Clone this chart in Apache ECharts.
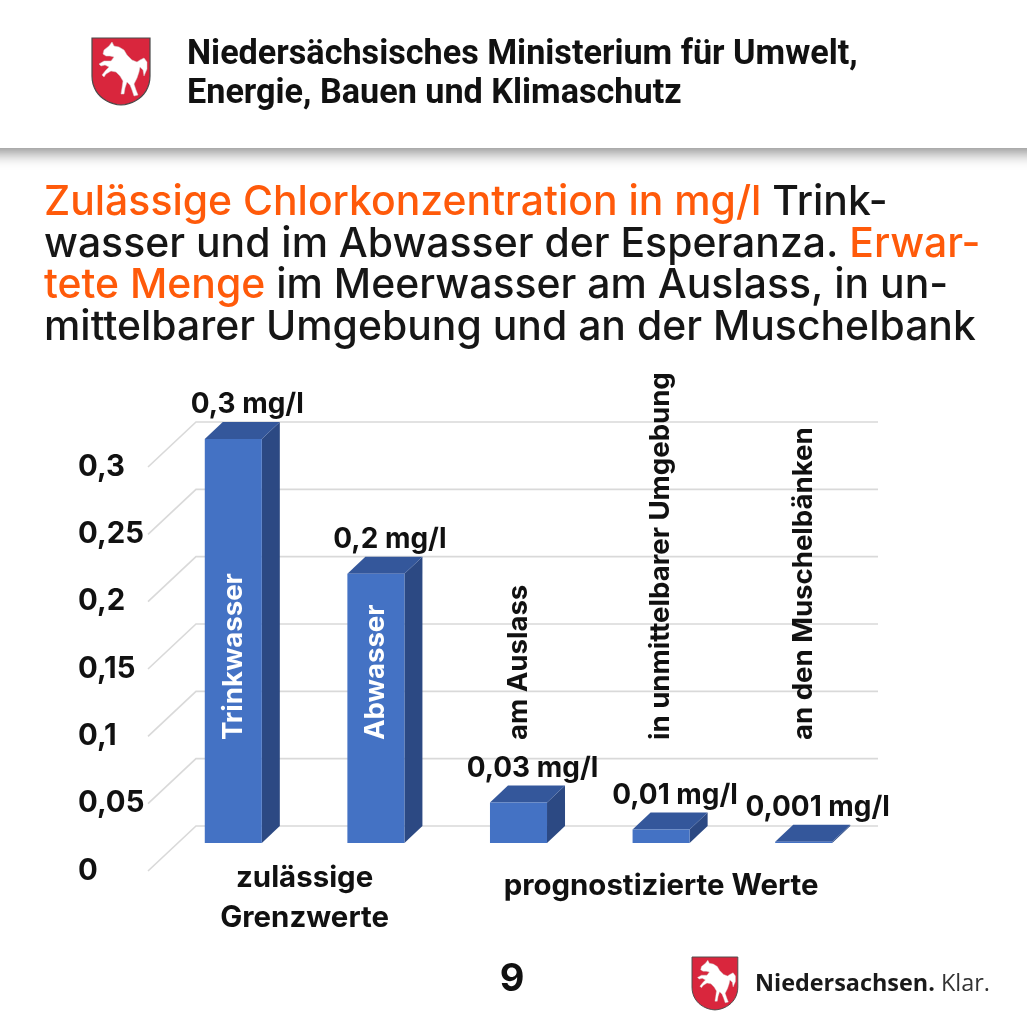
<!DOCTYPE html>
<html><head><meta charset="utf-8">
<script src="https://cdn.jsdelivr.net/npm/echarts@6/dist/echarts.min.js"></script>
<style>html,body{margin:0;padding:0;background:#fff}#c{width:1027px;height:1025px}</style>
</head><body><div id="c"></div>
<script>
// ---- data ----
const categories = ['Trinkwasser', 'Abwasser', 'am Auslass', 'in unmittelbarer Umgebung', 'an den Muschelbänken'];
const values = [0.3, 0.2, 0.03, 0.01, 0.001];
const yTicks = [0, 0.05, 0.1, 0.15, 0.2, 0.25, 0.3];
const groupLabels = ['zulässige\nGrenzwerte', 'prognostizierte Werte'];
const groupRanges = [[0, 1], [2, 4]];
const unit = 'mg/l';
const headerLines = ['Niedersächsisches Ministerium für Umwelt,', 'Energie, Bauen und Klimaschutz'];
const titleLines = [
  [['o', 'Zulässige Chlorkonzentration in mg/l'], ['k', ' Trink-']],
  [['k', 'wasser und im Abwasser der Esperanza.'], ['o', ' Erwar-']],
  [['o', 'tete Menge'], ['k', ' im Meerwasser am Auslass, in un-']],
  [['k', 'mittelbarer Umgebung und an der Muschelbank']]
];
const pageNumber = '9';
const footerBrand = ['Niedersachsen.', ' Klar.'];

// ---- helpers ----
const mctx = document.createElement('canvas').getContext('2d');
function fitSize(text, weight, family, target) {
  mctx.font = weight + ' 100px ' + family;
  return 100 * target / mctx.measureText(text).width;
}
const fmt = v => String(+v.toFixed(4)).replace('.', ',');

const GEO = 'Inter';
const titleSize = fitSize(titleLines[3][0][1], '500', GEO, 932);
const headerSize = fitSize(headerLines[0], '700', 'Roboto', 671);
const catSize = fitSize(categories[3], '700', GEO, 368);
const valSize = fitSize('0,3 mg/l', '700', GEO, 113);
const axisSize = fitSize('0,25', '700', GEO, 66);
const groupSize = fitSize(groupLabels[1], '700', GEO, 315);
const brandSize = fitSize(footerBrand[0], '700', 'Open Sans', 180);

function bez(p0, p1, p2, p3, n) {
  const out = [];
  for (let k = 1; k <= n; k++) {
    const t = k / n, u = 1 - t;
    out.push([u*u*u*p0[0] + 3*u*u*t*p1[0] + 3*u*t*t*p2[0] + t*t*t*p3[0],
              u*u*u*p0[1] + 3*u*u*t*p1[1] + 3*u*t*t*p2[1] + t*t*t*p3[1]]);
  }
  return out;
}
const shieldPts = [[0, 0], [58, 0], [58, 38]]
  .concat(bez([58, 38], [58, 55], [45, 66], [29, 67], 12))
  .concat(bez([29, 67], [13, 66], [0, 55], [0, 38], 12));
const horse = [[11,16],[12,12],[17,8],[20,4],[22,8],[27,9],[32,12],[35,17],[40,22],[45,24],[48,22],[52,20],[55,24],[55,31],[52,38],[51,32],[48,29],[47,34],[45,40],[42,46],[44,52],[46,57],[42,58],[40,52],[38,47],[35,44],[33,50],[32,56],[29,56],[30,50],[31,43],[28,38],[24,34],[19,33],[14,36],[12,39],[10,37],[14,32],[17,29],[13,27],[9,28],[7,26],[12,23],[19,23],[22,19],[18,18],[14,18]];
function shield(x, y, s, z) {
  return { type: 'group', x: x, y: y, scaleX: s, scaleY: s, z: z || 0, children: [
    { type: 'polygon', z: z || 0, shape: { points: shieldPts },
      style: { fill: '#d9263d', stroke: '#4a4a4a', lineWidth: 1.2 } },
    { type: 'polygon', z: z || 0, shape: { points: horse }, style: { fill: '#ffffff', stroke: '#d0d0d0', lineWidth: 0.5 } }
  ]};
}

const chart = echarts.init(document.getElementById('c'), null, { renderer: 'canvas' });

const D = { dx: 18, dy: -17 };

function renderGrid(params, api) {
  const v = api.value(1);
  const y = api.coord([0, v])[1];
  const cs = params.coordSys;
  return { type: 'group', children: [
    { type: 'polyline', silent: true,
      shape: { points: [[cs.x - 14, y + 28], [cs.x + 34, y + D.dy], [cs.x + cs.width + 3, y + D.dy]] },
      style: { stroke: '#d9d9d9', lineWidth: 1.6, fill: null } },
    { type: 'text', x: cs.x - 84, y: y + 28,
      style: { text: fmt(v), align: 'left', verticalAlign: 'middle', fill: '#111',
        fontSize: axisSize, fontWeight: 700, fontFamily: GEO } }
  ]};
}

function renderBar(params, api) {
  const i = api.value(0), v = api.value(1);
  const top = api.coord([i, v]), base = api.coord([i, 0]);
  const w = api.size([1, 0])[0] * 0.4;
  const cx = top[0], x0 = cx - w / 2, x1 = cx + w / 2, yt = top[1], yb = base[1];
  const name = categories[i];
  mctx.font = '700 ' + catSize + 'px ' + GEO;
  const labW = mctx.measureText(name).width;
  const inside = (yb - yt) > labW + 120;
  return { type: 'group', children: [
    { type: 'polygon', shape: { points: [[x1, yt], [x1 + D.dx, yt + D.dy], [x1 + D.dx, yb + D.dy], [x1, yb]] },
      style: { fill: '#2c4983' } },
    { type: 'polygon', shape: { points: [[x0, yt], [x0 + D.dx, yt + D.dy], [x1 + D.dx, yt + D.dy], [x1, yt]] },
      style: { fill: '#34579b' } },
    { type: 'rect', shape: { x: x0, y: yt, width: w, height: Math.max(yb - yt, 0) }, style: { fill: '#4472c4' } },
    { type: 'text', x: cx + 14, y: yt + D.dy - 17,
      style: { text: fmt(v) + ' ' + unit, align: 'center', verticalAlign: 'middle', fill: '#111',
        fontSize: valSize, fontWeight: 700, fontFamily: GEO } },
    { type: 'text', x: cx, y: yb - 103, rotation: Math.PI / 2,
      style: { text: name, align: 'left', verticalAlign: 'middle', fill: inside ? '#ffffff' : '#111111',
        fontSize: catSize, fontWeight: 700, fontFamily: GEO } }
  ]};
}

const option = {
  animation: false,
  backgroundColor: '#ffffff',
  grid: { left: 162, right: 152, top: 439, bottom: 182, containLabel: false },
  xAxis: { type: 'category', data: categories, axisLine: { show: false }, axisTick: { show: false },
    axisLabel: { show: false }, splitLine: { show: false } },
  yAxis: { type: 'value', min: 0, max: 0.3, interval: 0.05,
    axisLine: { show: false }, axisTick: { show: false }, splitLine: { show: false },
    axisLabel: { show: false } },
  series: [
    { type: 'custom', name: 'grid', renderItem: renderGrid, z: 1, silent: true,
      data: yTicks.map(t => [0, t]) },
    { type: 'custom', name: 'bars', renderItem: renderBar, z: 2,
      data: values.map((v, i) => [i, v]) }
  ]
};
chart.setOption(option);

const gfx = [];
gfx.push({ type: 'rect', z: 10, shape: { x: -20, y: -20, width: 1067, height: 168 },
  style: { fill: '#ffffff', shadowBlur: 14, shadowColor: 'rgba(0,0,0,0.45)', shadowOffsetY: 5 } });
gfx.push(shield(92, 38, 1, 11));
headerLines.forEach((t, i) => gfx.push({ type: 'text', z: 11, x: 187, y: [55, 94][i],
  style: { text: t, align: 'left', verticalAlign: 'middle', fill: '#111', fontSize: headerSize, fontWeight: 700, fontFamily: 'Roboto' } }));
const tBase = [217, 259, 300, 342];
titleLines.forEach((segs, i) => gfx.push({
  type: 'text', x: 44, y: tBase[i] - titleSize * 0.36,
  style: {
    text: segs.map(s => '{' + s[0] + '|' + s[1] + '}').join(''),
    verticalAlign: 'middle', align: 'left',
    rich: {
      o: { fill: '#ff5a0a', fontSize: titleSize, fontWeight: 500, fontFamily: GEO },
      k: { fill: '#161616', fontSize: titleSize, fontWeight: 500, fontFamily: GEO }
    }
  }
}));
groupLabels.forEach((t, gi) => {
  const a = chart.convertToPixel({ gridIndex: 0 }, [groupRanges[gi][0], 0]);
  const b = chart.convertToPixel({ gridIndex: 0 }, [groupRanges[gi][1], 0]);
  const multi = t.indexOf('\n') >= 0;
  gfx.push({ type: 'text', x: (a[0] + b[0]) / 2, y: a[1] + (multi ? 55 : 43),
    style: { text: t, align: 'center', verticalAlign: 'middle', lineHeight: 40, fill: '#111',
      fontSize: groupSize, fontWeight: 700, fontFamily: GEO } });
});
gfx.push({ type: 'text', x: 512, y: 980, style: { text: pageNumber, align: 'center', verticalAlign: 'middle',
  fill: '#111', fontSize: 38, fontWeight: 700, fontFamily: GEO } });
gfx.push(shield(692, 957, 0.79));
gfx.push({ type: 'text', x: 755, y: 984, style: { text: '{b|' + footerBrand[0] + '}{r|' + footerBrand[1] + '}',
  align: 'left', verticalAlign: 'middle',
  rich: { b: { fontSize: brandSize, fontWeight: 700, fontFamily: 'Open Sans', fill: '#1a1a1a' },
          r: { fontSize: brandSize, fontWeight: 400, fontFamily: 'Open Sans', fill: '#333' } } } });
chart.setOption({ graphic: gfx });
</script></body></html>
